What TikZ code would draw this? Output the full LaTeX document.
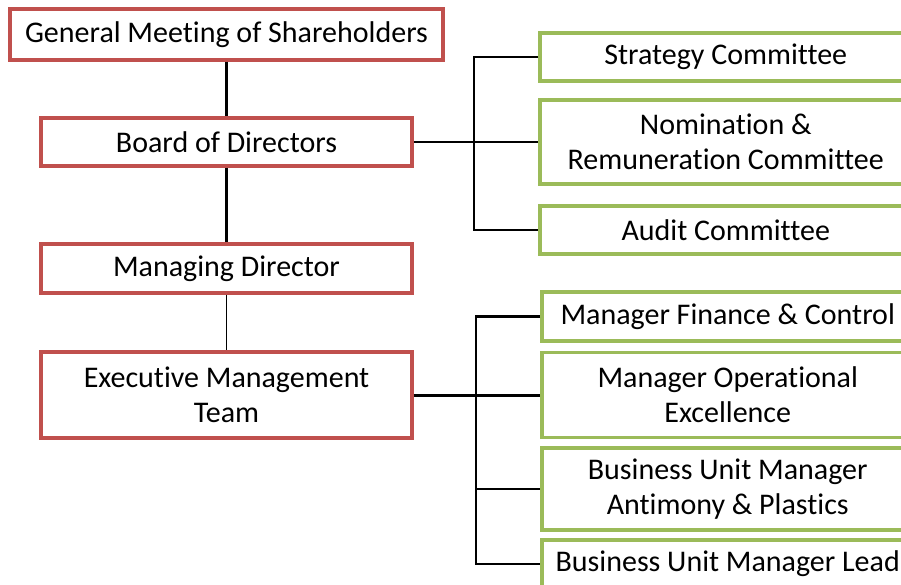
\documentclass[tikz,border=0pt]{standalone}
\usepackage{fontspec}
\setmainfont[Ligatures = NoCommon]{Carlito}
\definecolor{boxred}{HTML}{C0504D}
\definecolor{boxgreen}{HTML}{9BBB59}

\begin{document}
\begin{tikzpicture}[x = 1pt, y = -1pt]
	\tikzstyle{orgStyle} = [shape = rectangle, line width = 3.5pt, inner sep = 0pt, align = center, font = \fontsize{30}{35}\selectfont]
	\tikzstyle{redStyle} = [orgStyle, draw = boxred, minimum width = 371pt]
	\tikzstyle{greenStyle} = [orgStyle, draw = boxgreen, minimum width = 372pt, anchor = west]
	\tikzstyle{linkStyle} = [line width = 2.5pt]
	\clip (0,0) rectangle (901,585);
	\node[redStyle, minimum width = 433pt, minimum height = 51pt] (gms) at (226.5, 34.5) {General Meeting of Shareholders};
	\node[redStyle, minimum height = 48pt] (bod) at (226.5, 142) {Board of Directors};
	\node[redStyle, minimum height = 49pt] (md) at (226.5, 268.5) {Managing Director};
	\node[redStyle, minimum height = 86pt] (emt) at (226.5, 395) {Executive Management\\Team};
	\node[greenStyle, minimum height = 48pt] (strat) at (538, 57) {Strategy Committee};
	\node[greenStyle, minimum height = 84pt] (nom) at (538, 142) {Nomination \&\\Remuneration Committee};
	\node[greenStyle, minimum height = 48pt] (audit) at (538, 230) {Audit Committee};
	\node[greenStyle, minimum height = 49pt] (mfc) at (540, 316.5) {Manager Finance \& Control};
	\node[greenStyle, minimum height = 85pt] (moe) at (540, 395) {Manager Operational\\Excellence};
	\node[greenStyle, minimum height = 82pt] (bua) at (540, 489) {Business Unit Manager\\Antimony \& Plastics};
	\node[greenStyle, minimum height = 48pt] (bul) at (540, 564) {Business Unit Manager Lead};
	\coordinate (bus1) at (474, 142);
	\coordinate (bus2) at (476, 395);
	\draw[linkStyle] (gms) -- (bod);
	\draw[linkStyle] (bod) -- (md);
	\draw[linkStyle, line width = 1.8pt] (md) -- (emt);
	\draw[linkStyle] (bod.east) -- (nom.west);
	\draw[linkStyle] (strat.west) -| (bus1) |- (audit.west);
	\draw[linkStyle, line width = 3pt] (emt.east) -- (moe.west);
	\draw[linkStyle] (mfc.west) -| (bus2) |- (bul.west);
	\draw[linkStyle] (bus2 |- bua.west) -- (bua.west);
\end{tikzpicture}
\end{document}
